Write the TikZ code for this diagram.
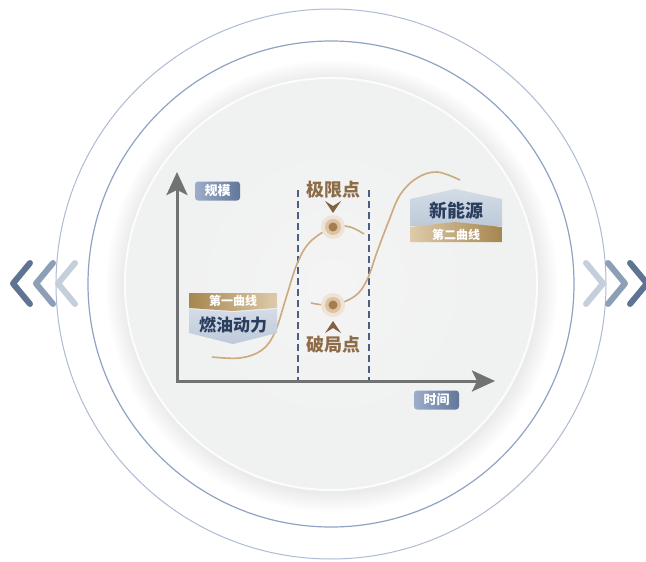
\documentclass[tikz,border=0pt]{standalone}
\usepackage{fontspec}
\newfontfamily\cjk{Noto Sans CJK SC}
\usetikzlibrary{arrows.meta}
\definecolor{ringOut}{HTML}{AEBCD3}
\definecolor{ringIn}{HTML}{8FA3C2}
\definecolor{diskIn}{HTML}{F4F4F5}
\definecolor{diskOut}{HTML}{F0F1F1}
\definecolor{chevDark}{HTML}{5F7492}
\definecolor{chevMid}{HTML}{8D9EB7}
\definecolor{chevLight}{HTML}{C5CFDC}
\definecolor{axisgray}{HTML}{717273}
\definecolor{dashblue}{HTML}{4C5F80}
\definecolor{curvegold}{HTML}{C9AB7D}
\definecolor{tagL}{HTML}{9DADC9}
\definecolor{tagR}{HTML}{62779A}
\definecolor{labbrown}{HTML}{8E6C47}
\definecolor{boxTop}{HTML}{D3DCE7}
\definecolor{boxBot}{HTML}{BECAD9}
\definecolor{goldL}{HTML}{DDCBA9}
\definecolor{goldR}{HTML}{A6864F}
\definecolor{navy}{HTML}{2C3E5E}
\definecolor{halo1}{HTML}{EEE3D6}
\definecolor{halo2}{HTML}{DCC3A4}
\definecolor{dotc}{HTML}{A67D50}
\tikzset{
  chev/.style={draw=#1, line width=6pt, line cap=round, line join=round},
  axisline/.style={draw=axisgray, line width=3pt, line join=miter,
    {Stealth[length=23pt,width=21pt,inset=5pt]}-{Stealth[length=23pt,width=21pt,inset=5pt]}},
  vdash/.style={draw=dashblue, line width=1.3pt, dash pattern=on 7pt off 4pt},
  curve/.style={draw=curvegold, line width=1.6pt},
  tag/.style={rounded corners=3pt, left color=tagL, right color=tagR, text=white,
    font=\cjk\bfseries\fontsize{13}{13}\selectfont, minimum width=45pt, minimum height=19pt, inner sep=0pt},
  pointlabel/.style={text=labbrown, font=\cjk\bfseries\fontsize{18}{18}\selectfont, inner sep=0pt},
  bigtext/.style={text=navy, font=\cjk\bfseries\fontsize{#1}{#1}\selectfont, inner sep=0pt},
  smalltext/.style={text=white, font=\cjk\bfseries\fontsize{12}{12}\selectfont, inner sep=0pt},
  marker/.style={fill=labbrown!90!black},
}
\begin{document}
\begin{tikzpicture}[x=1pt,y=-1pt]
\useasboundingbox (0,0) rectangle (646,562);
\fill[white] (0,0) rectangle (646,562);
\coordinate (C) at (331,284);
\coordinate (Cs) at (332,286);
% rings
\draw[ringOut, line width=1pt] (C) circle (275pt);
\draw[ringIn, line width=1.2pt] (C) circle (243pt);
% shadow + disk
\foreach \r in {226,224,...,208} \fill[black, opacity=0.007] (Cs) circle (\r pt);
\fill[diskOut] (C) circle (207pt);
\shade[inner color=diskIn, outer color=diskOut] (C) circle (150pt);
\draw[white, line width=2pt, opacity=0.8] (C) circle (206pt);
% chevrons
\draw[chev=chevDark]  (30,263)--(13,283.5)--(30,304);
\draw[chev=chevMid]   (53,263)--(36,283.5)--(53,304);
\draw[chev=chevLight] (75,263)--(58,283.5)--(75,304);
\draw[chev=chevLight] (586,263)--(603,283.5)--(586,304);
\draw[chev=chevMid]   (608,263)--(625,283.5)--(608,304);
\draw[chev=chevDark]  (630,263)--(647,283.5)--(630,304);
% dashed guides
\coordinate (D1t) at (298,190); \coordinate (D1b) at (298,381);
\coordinate (D2t) at (369,190); \coordinate (D2b) at (369,381);
\draw[vdash] (D1t) -- (D1b);
\draw[vdash] (D2t) -- (D2b);
% curves
\coordinate (P1) at (333,227);
\coordinate (P2) at (333,305);
\draw[curve] plot[smooth, tension=0.6] coordinates {(212,357) (240,358) (262,350) (275,332) (286,298) (297,264) (310,242) (333,227) (350,227) (364,234)};
\draw[curve] plot[smooth, tension=0.6] coordinates {(311,303) (333,305) (355,296) (367,280) (377,252) (388,223) (400,195) (417,178) (437,172) (460,180)};
% axes
\coordinate (O) at (177,381);
\coordinate (Ytip) at (177,172);
\coordinate (Xtip) at (495,381);
\draw[axisline] (Ytip) -- (O) -- (Xtip);
% axis tags
\node[tag] (gm) at (217.5,191) {规模};
\node[tag] (sj) at (436.5,400) {时间};
% new energy box
\shade[top color=boxTop, bottom color=boxBot] (410,199)--(455,189)--(502,199)--(502,226)--(410,226)--cycle;
\shade[left color=goldL, right color=goldR] (410,227)--(455,222)--(502,227)--(502,242)--(410,242)--cycle;
\node[bigtext=18] (xny) at (456,211) {新能源};
\node[smalltext] (dex) at (456,234.5) {第二曲线};
% fuel box
\shade[left color=goldR, right color=goldL] (189,293)--(277,293)--(277,308)--(233,311)--(189,308)--cycle;
\shade[top color=boxTop, bottom color=boxBot] (189,309)--(233,312)--(277,309)--(277,333)--(233,344)--(189,333)--cycle;
\node[smalltext] (dyx) at (233,300.5) {第一曲线};
\node[bigtext=17] (ryd) at (233,325) {燃油动力};
% points
\foreach \p in {P1,P2} {
  \fill[halo1] (\p) circle (12pt);
  \fill[halo2] (\p) circle (8pt);
  \fill[dotc] (\p) circle (4.5pt);
}
\fill[marker] (325,201)--(333,206)--(341,201)--(333,213)--cycle;
\fill[marker] (325,333)--(333,328)--(341,333)--(333,321)--cycle;
\node[pointlabel] (jxd) at (333,190) {极限点};
\node[pointlabel] (pjd) at (333,345) {破局点};
\end{tikzpicture}
\end{document}
